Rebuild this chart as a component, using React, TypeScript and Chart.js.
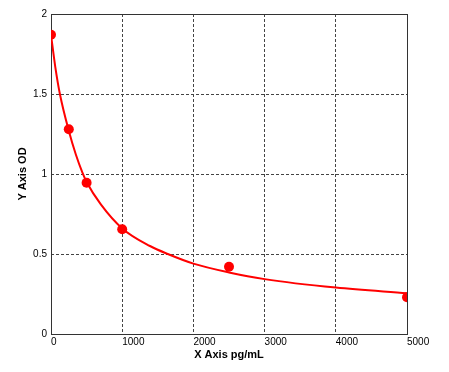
import React, { useEffect, useRef } from "react";
import { Chart, registerables } from "chart.js";

Chart.register(...registerables);

// Standards (measured points)
const stdConc = [0, 250, 500, 1000, 2500, 5000];
const stdOD = [1.87, 1.28, 0.945, 0.655, 0.42, 0.23];

// Fitted curve
const curveConc = [0, 60, 125, 250, 350, 440, 500, 700, 1000, 1390, 1640, 2000, 2500, 3000, 4000, 5000];
const curveOD = [1.87, 1.67, 1.5, 1.27, 1.12, 1.01, 0.95, 0.81, 0.66, 0.55, 0.5, 0.44, 0.385, 0.343, 0.29, 0.255];

const xTitle = "X Axis pg/mL";
const yTitle = "Y Axis OD";

const borderPlugin = {
  id: "plotBorder",
  beforeDatasetsDraw(chart: any) {
    const { ctx, chartArea } = chart;
    ctx.save();
    ctx.strokeStyle = "#333";
    ctx.lineWidth = 1;
    ctx.setLineDash([]);
    ctx.strokeRect(
      Math.round(chartArea.left) + 0.5,
      Math.round(chartArea.top) + 0.5,
      Math.round(chartArea.right - chartArea.left),
      Math.round(chartArea.bottom - chartArea.top)
    );
    ctx.restore();
  },
};

export default function App() {
  const ref = useRef<HTMLCanvasElement | null>(null);

  useEffect(() => {
    if (!ref.current) return;
    const font = { family: "'Liberation Sans', Arial, sans-serif", size: 10 };
    const titleFont = { family: "'Liberation Sans', Arial, sans-serif", size: 11, weight: "bold" as const };
    const gridColor = (c: any) => {
      const i = c.index;
      const n = c.scale.ticks.length;
      return i === 0 || i === n - 1 ? "rgba(0,0,0,0)" : "#444";
    };
    const chart = new Chart(ref.current, {
      type: "scatter",
      data: {
        datasets: [
          {
            type: "line",
            label: "curve",
            data: curveConc.map((x, i) => ({ x, y: curveOD[i] })),
            borderColor: "#ff0000",
            backgroundColor: "#ff0000",
            borderWidth: 2,
            pointRadius: 0,
            cubicInterpolationMode: "monotone",
            fill: false,
            order: 2,
          } as any,
          {
            type: "scatter",
            label: "standards",
            data: stdConc.map((x, i) => ({ x, y: stdOD[i] })),
            borderColor: "#ff0000",
            backgroundColor: "#ff0000",
            pointRadius: 5,
            pointBorderWidth: 0,
            order: 1,
          } as any,
        ],
      },
      options: {
        responsive: false,
        animation: false,
        devicePixelRatio: 1,
        layout: { padding: { left: 0, top: 14, right: 42, bottom: 0 } },
        plugins: { legend: { display: false }, tooltip: { enabled: false } },
        scales: {
          x: {
            type: "linear",
            min: 0,
            max: 5000,
            afterFit: (s: any) => {
              s.height = 38;
            },
            ticks: {
              stepSize: 1000,
              align: "start",
              color: "#000",
              font,
              padding: 2,
              maxRotation: 0,
              autoSkip: false,
              callback: (v: any) => String(v),
            },
            grid: {
              color: gridColor,
              drawTicks: false,
            },
            border: { display: false, dash: [3, 2] },
            title: { display: true, text: xTitle, color: "#000", font: titleFont, padding: { top: 0, bottom: 10 } },
          },
          y: {
            type: "linear",
            min: 0,
            max: 2,
            afterFit: (s: any) => {
              s.width = 51;
            },
            ticks: {
              stepSize: 0.5,
              color: "#000",
              font,
              padding: 4,
              callback: (v: any) => String(v),
            },
            grid: {
              color: gridColor,
              drawTicks: false,
            },
            border: { display: false, dash: [3, 2] },
            title: { display: true, text: yTitle, color: "#000", font: titleFont, padding: { top: 16, bottom: 0 } },
          },
        },
      } as any,
      plugins: [borderPlugin],
    });
    return () => chart.destroy();
  }, []);

  return (
    <div style={{ position: "absolute", left: 0, top: 0, width: 449, height: 372, background: "#fff" }}>
      <canvas ref={ref} width={449} height={372} style={{ display: "block", width: 449, height: 372 }} />
    </div>
  );
}
